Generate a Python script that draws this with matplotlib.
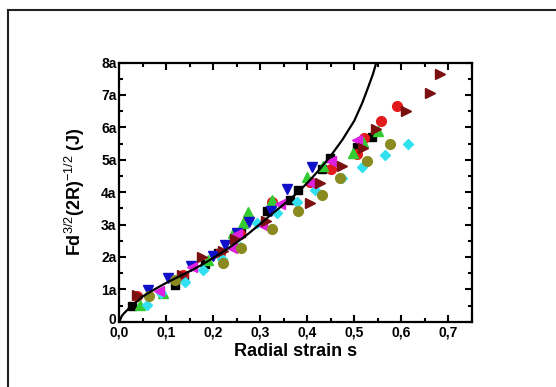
import numpy as np
import matplotlib
matplotlib.use('Agg')
import matplotlib.pyplot as plt
from matplotlib.lines import Line2D
from matplotlib.ticker import MultipleLocator
from matplotlib.transforms import ScaledTranslation

plt.rcParams['font.family'] = ['Liberation Sans', 'DejaVu Sans']
plt.rcParams['mathtext.fontset'] = 'custom'
plt.rcParams['mathtext.rm'] = 'Liberation Sans'
plt.rcParams['mathtext.bf'] = 'Liberation Sans:bold'

# tick labels
x_ticks = [0.0, 0.1, 0.2, 0.3, 0.4, 0.5, 0.6, 0.7]
x_tick_labels = ['0,0', '0,1', '0,2', '0,3', '0,4', '0,5', '0,6', '0,7']
y_ticks = [0, 1, 2, 3, 4, 5, 6, 7, 8]
y_tick_labels = ['0', '1a', '2a', '3a', '4a', '5a', '6a', '7a', '8a']

# model curve
curve_s = [0.0, 0.005, 0.01, 0.025, 0.05, 0.075, 0.1, 0.125, 0.15, 0.175,
           0.2, 0.225, 0.25, 0.275, 0.3, 0.325, 0.35, 0.375, 0.4, 0.425,
           0.45, 0.475, 0.5, 0.517, 0.53, 0.54, 0.547]
curve_v = [0.0, 0.17, 0.26, 0.48, 0.78, 1.0, 1.2, 1.38, 1.56, 1.75,
           1.97, 2.2, 2.45, 2.72, 3.02, 3.33, 3.62, 3.93, 4.28, 4.68,
           5.12, 5.62, 6.2, 6.75, 7.25, 7.65, 8.0]

# measured series
black_s = [0.026, 0.119, 0.138, 0.182, 0.211, 0.260, 0.314, 0.363, 0.381, 0.431, 0.448, 0.505, 0.537]
black_v = [0.47, 1.13, 1.42, 1.78, 2.13, 2.75, 3.42, 3.76, 4.06, 4.72, 5.05, 5.38, 5.70]

red_s = [0.037, 0.135, 0.215, 0.257, 0.274, 0.326, 0.405, 0.451, 0.505, 0.521, 0.557, 0.591]
red_v = [0.80, 1.45, 2.12, 2.72, 3.20, 3.70, 4.30, 4.70, 5.18, 5.68, 6.18, 6.67]

green_s = [0.044, 0.094, 0.189, 0.243, 0.264, 0.274, 0.326, 0.400, 0.433, 0.497, 0.518, 0.551]
green_v = [0.52, 0.90, 1.92, 2.73, 3.06, 3.40, 3.76, 4.46, 4.82, 5.20, 5.56, 5.90]

blue_s = [0.060, 0.104, 0.152, 0.199, 0.225, 0.250, 0.275, 0.323, 0.356, 0.410]
blue_v = [0.99, 1.36, 1.72, 2.03, 2.37, 2.73, 3.08, 3.42, 4.10, 4.77]

magenta_s = [0.085, 0.154, 0.239, 0.250, 0.303, 0.342, 0.409, 0.450, 0.505]
magenta_v = [0.94, 1.68, 2.27, 2.72, 2.98, 3.62, 4.28, 4.95, 5.61]

wine_s = [0.038, 0.133, 0.175, 0.220, 0.246, 0.313, 0.406, 0.428, 0.474, 0.518, 0.546, 0.611, 0.662, 0.683]
wine_v = [0.83, 1.45, 1.99, 2.18, 2.54, 3.10, 3.66, 4.27, 4.80, 5.37, 5.95, 6.50, 7.07, 7.64]

olive_s = [0.063, 0.119, 0.221, 0.260, 0.326, 0.381, 0.432, 0.469, 0.527, 0.577]
olive_v = [0.78, 1.30, 1.81, 2.27, 2.86, 3.41, 3.91, 4.42, 4.96, 5.48]

cyan_s = [0.058, 0.089, 0.139, 0.178, 0.218, 0.257, 0.292, 0.335, 0.378, 0.416, 0.473, 0.516, 0.566, 0.614]
cyan_v = [0.52, 0.88, 1.24, 1.60, 1.95, 2.30, 3.04, 3.36, 3.71, 4.07, 4.43, 4.79, 5.13, 5.50]

fig = plt.figure(figsize=(5.56, 3.87), dpi=100)
ax = fig.add_axes([0.2146, 0.1687, 0.6338, 0.6698])

ms = 7
ax.plot(black_s, black_v, 's', color='black', ms=ms - 1.5, zorder=3)
ax.plot(red_s, red_v, 'o', color='#e31a1c', ms=ms, zorder=3)
ax.plot(green_s, green_v, '^', color='#33cc33', ms=ms, zorder=3)
ax.plot(blue_s, blue_v, 'v', color='#1010c8', ms=ms, zorder=3)
ax.plot(cyan_s, cyan_v, 'D', color='#33e0f0', ms=ms - 2, zorder=3)
ax.plot(magenta_s, magenta_v, '<', color='#e020e0', ms=ms, zorder=3)
ax.plot(wine_s, wine_v, '>', color='#7a1010', ms=ms, zorder=3)
ax.plot(olive_s, olive_v, 'o', color='#8a8a20', ms=ms, zorder=3)
ax.plot(curve_s, curve_v, '-', color='black', lw=1.6, zorder=4,
        solid_joinstyle='round')

ax.set_xlim(0, 0.75)
ax.set_ylim(0, 8)
ax.set_xticks(x_ticks)
ax.set_xticklabels(x_tick_labels)
ax.set_yticks(y_ticks)
ax.set_yticklabels(y_tick_labels)
ax.xaxis.set_minor_locator(MultipleLocator(0.05))
ax.yaxis.set_minor_locator(MultipleLocator(0.5))
ax.tick_params(which='both', direction='in', top=True, right=True, width=1.5,
               labelsize=10)
ax.tick_params(axis='x', pad=3)
ax.tick_params(axis='y', pad=2)
ax.tick_params(which='major', length=5)
ax.tick_params(which='minor', length=3)
for lab in ax.get_xticklabels() + ax.get_yticklabels():
    lab.set_fontweight('bold')
for sp in ax.spines.values():
    sp.set_linewidth(1.6)

# nudge the "0" y label up a little so it clears "0,0"
zero_lab = ax.get_yticklabels()[0]
zero_lab.set_transform(zero_lab.get_transform() +
                       ScaledTranslation(0, 2 / 72, fig.dpi_scale_trans))

ax.set_xlabel('Radial strain s', fontsize=13, fontweight='bold', labelpad=2)
ax.set_ylabel(r'Fd$^{\mathrm{3/2}}$(2R)$^{\mathrm{-1/2}}$ (J)', fontsize=13,
              fontweight='bold', labelpad=10)

# outer frame (left and top edges visible)
fig.add_artist(Line2D([7.5 / 556, 7.5 / 556], [0, 1 - 9.5 / 387], color='#222222', lw=1.5))
fig.add_artist(Line2D([7.5 / 556, 1], [1 - 9.5 / 387, 1 - 9.5 / 387], color='#222222', lw=1.5))

fig.savefig('out.png', dpi=100)
